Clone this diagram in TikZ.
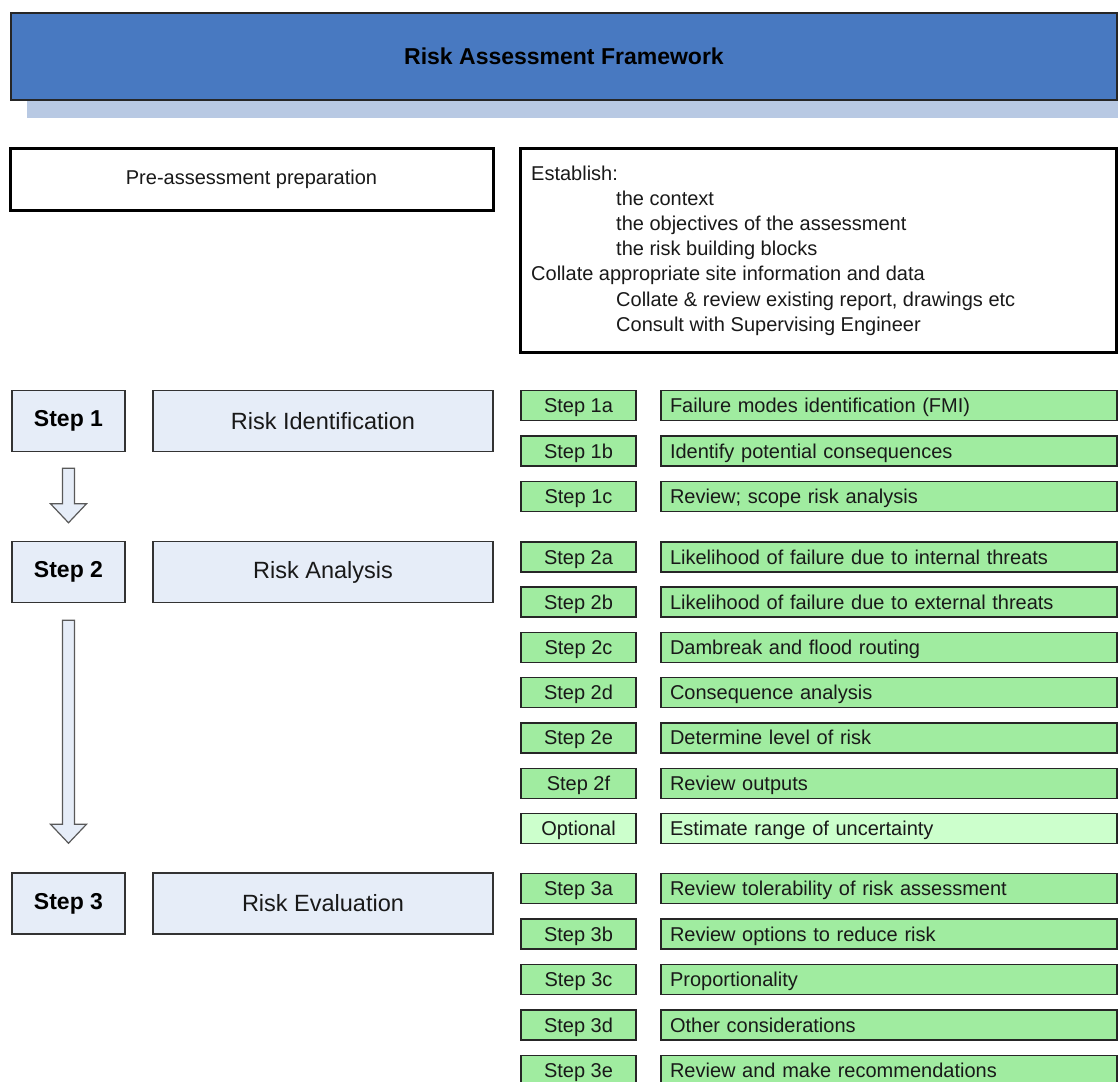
\documentclass[tikz,border=0pt]{standalone}
\usepackage{fontspec}
\setmainfont{Liberation Sans}
\usetikzlibrary{calc}
\definecolor{titleblue}{RGB}{72,121,193}
\definecolor{shadowblue}{RGB}{184,201,227}
\definecolor{stepfill}{RGB}{230,237,248}
\definecolor{greenfill}{RGB}{160,236,160}
\definecolor{optfill}{RGB}{204,255,204}
\definecolor{inktext}{RGB}{25,25,25}
\newcommand\blockarrow[2]{%
  \draw[blockarr] let \p1=(#1), \p2=(#2) in
    (\x1-6pt,\y1) -- (\x1+6pt,\y1) -- (\x1+6pt,\y2+19pt) -- (\x1+18pt,\y2+19pt)
    -- (\x1,\y2) -- (\x1-18pt,\y2+19pt) -- (\x1-6pt,\y2+19pt) -- cycle;}
\newcommand\subrow[6]{%
  \node[substep,fill=#6] (l#1) at (578.5,#2) {#3};
  \node[subtext,fill=#6] (t#1) at (889,#2) {#4};}
\tikzset{
  titlebox/.style={draw=black!85, line width=1.2pt, fill=titleblue, inner sep=0pt,
    font=\bfseries\fontsize{23}{27}\selectfont, text=black},
  thickbox/.style={draw=black, line width=3pt, fill=white, inner sep=0pt,
    font=\fontsize{20}{24}\selectfont, text=inktext},
  stepbox/.style={draw=black!80, line width=1.5pt, fill=stepfill, inner sep=0pt,
    minimum width=113pt, minimum height=61pt, font=\bfseries\fontsize{23}{27}\selectfont, text=black},
  phasebox/.style={draw=black!80, line width=1.5pt, fill=stepfill, inner sep=0pt,
    minimum width=340pt, minimum height=61pt, font=\fontsize{23.5}{28}\selectfont, text=inktext},
  substep/.style={draw=black!85, line width=1.3pt, inner sep=0pt,
    minimum width=115pt, minimum height=30pt, font=\fontsize{20}{24}\selectfont,
    text height=15pt, text depth=1pt, text=inktext},
  subtext/.style={draw=black!85, line width=1.3pt, inner xsep=9pt, inner ysep=0pt,
    text width=438pt, minimum height=30pt, align=left, font=\fontsize{20}{24}\selectfont,
    text height=15pt, text depth=1pt, text=inktext},
  esttext/.style={anchor=base west, inner sep=0pt, font=\fontsize{20}{24}\selectfont, text=inktext},
  blockarr/.style={draw=black!65, line width=1.2pt, fill=stepfill, line join=miter},
}
\begin{document}
\begin{tikzpicture}[x=1pt,y=-1pt]
\useasboundingbox (0,0) rectangle (1118,1081);
% title with shadow
\fill[shadowblue] (27,100) rectangle (1118,118);
\node[titlebox, minimum width=1106pt, minimum height=87pt] (title) at (564,56.5) {Risk Assessment Framework};
% preparation
\node[thickbox, minimum width=483pt, minimum height=62pt] (pre) at (251.5,179) {Pre-assessment preparation};
\node[thickbox, minimum width=596pt, minimum height=204pt] (est) at (818,250) {};
\node[esttext] (e1) at (531,180) {Establish:};
\node[esttext] (e2) at (616,205.2) {the context};
\node[esttext] (e3) at (616,230.4) {the objectives of the assessment};
\node[esttext] (e4) at (616,255.6) {the risk building blocks};
\node[esttext] (e5) at (531,280.8) {Collate appropriate site information and data};
\node[esttext] (e6) at (616,306) {Collate \& review existing report, drawings etc};
\node[esttext] (e7) at (616,331.2) {Consult with Supervising Engineer};
% steps
\node[stepbox] (s1) at (68.5,421) {Step 1};
\node[phasebox] (r1) at (323,421) {Risk Identification};
\node[stepbox] (s2) at (68.5,572) {Step 2};
\node[phasebox] (r2) at (323,572) {Risk Analysis};
\node[stepbox] (s3) at (68.5,903.5) {Step 3};
\node[phasebox] (r3) at (323,903.5) {Risk Evaluation};
% block arrows
\coordinate (a1s) at ($(s1.south)+(0,16)$);
\coordinate (a1e) at ($(s2.north)+(0,-18)$);
\coordinate (a2s) at ($(s2.south)+(0,17)$);
\coordinate (a2e) at ($(s3.north)+(0,-29)$);
\blockarrow{a1s}{a1e}
\blockarrow{a2s}{a2e}
% sub steps
\subrow{1a}{405.5}{Step 1a}{Failure modes identification (FMI)}{}{greenfill}
\subrow{1b}{451}{Step 1b}{Identify potential consequences}{}{greenfill}
\subrow{1c}{496.5}{Step 1c}{Review; scope risk analysis}{}{greenfill}
\subrow{2a}{557}{Step 2a}{Likelihood of failure due to internal threats}{}{greenfill}
\subrow{2b}{602}{Step 2b}{Likelihood of failure due to external threats}{}{greenfill}
\subrow{2c}{647.3}{Step 2c}{Dambreak and flood routing}{}{greenfill}
\subrow{2d}{692.6}{Step 2d}{Consequence analysis}{}{greenfill}
\subrow{2e}{737.9}{Step 2e}{Determine level of risk}{}{greenfill}
\subrow{2f}{783.2}{Step 2f}{Review outputs}{}{greenfill}
\subrow{op}{828.5}{Optional}{Estimate range of uncertainty}{}{optfill}
\subrow{3a}{888.5}{Step 3a}{Review tolerability of risk assessment}{}{greenfill}
\subrow{3b}{934}{Step 3b}{Review options to reduce risk}{}{greenfill}
\subrow{3c}{979.5}{Step 3c}{Proportionality}{}{greenfill}
\subrow{3d}{1025}{Step 3d}{Other considerations}{}{greenfill}
\subrow{3e}{1070.5}{Step 3e}{Review and make recommendations}{}{greenfill}
\end{tikzpicture}
\end{document}
